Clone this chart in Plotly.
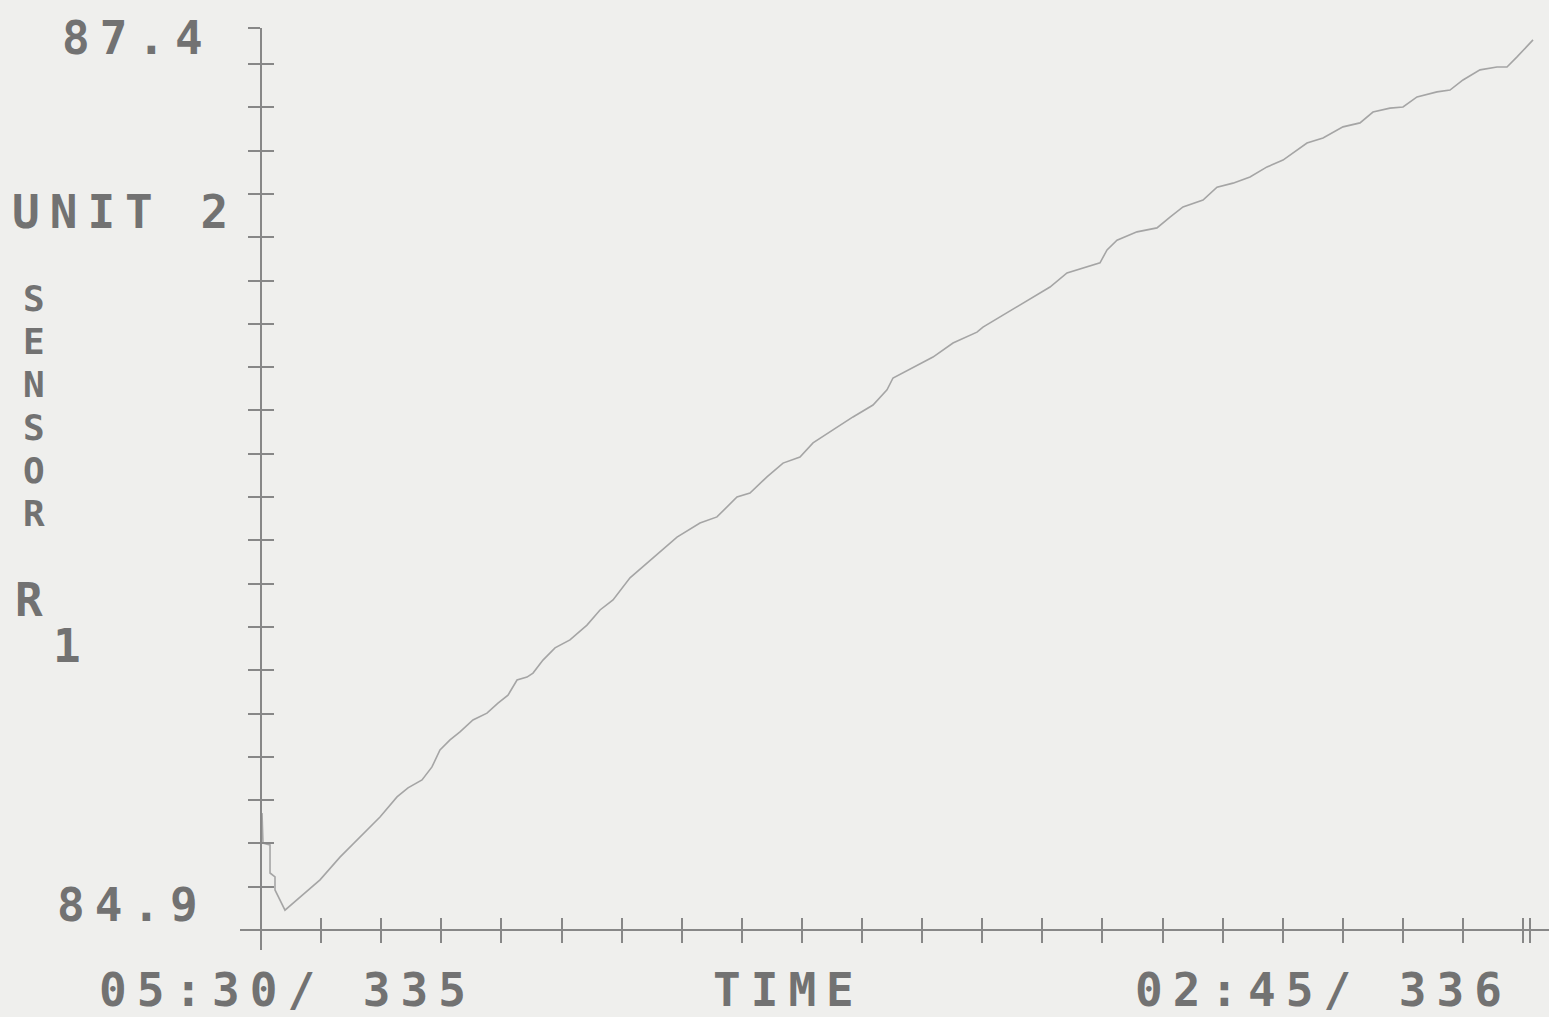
import plotly.graph_objects as go

# ---------------- data (hours after 05:30 day 335, sensor R1 reading) ----------------
time_h = [0.017, 0.033, 0.150, 0.150, 0.233, 0.233, 0.399, 0.649, 0.982, 1.314, 1.647,
          1.980, 2.263, 2.446, 2.679, 2.845, 2.978, 3.145, 3.311, 3.527, 3.760, 3.943,
          4.110, 4.260, 4.426, 4.526, 4.692, 4.892, 5.141, 5.424, 5.641, 5.857, 6.140,
          6.522, 6.922, 7.304, 7.587, 7.920, 8.136, 8.419, 8.686, 8.968, 9.185, 9.517,
          9.850, 10.183, 10.416, 10.516, 10.849, 11.181, 11.514, 11.913, 12.013, 12.579,
          13.128, 13.411, 13.744, 13.960, 14.077, 14.243, 14.576, 14.908, 15.125, 15.341,
          15.674, 15.907, 16.173, 16.456, 16.739, 17.005, 17.404, 17.671, 18.003, 18.286,
          18.502, 18.785, 19.002, 19.235, 19.567, 19.784, 20.000, 20.283, 20.566, 20.732,
          20.899, 21.165]
sensor_r1 = [85.224, 85.141, 85.136, 85.058, 85.047, 85.011, 84.955, 84.991, 85.039, 85.102,
             85.158, 85.213, 85.269, 85.294, 85.316, 85.352, 85.399, 85.427, 85.449, 85.482,
             85.501, 85.529, 85.551, 85.593, 85.601, 85.612, 85.648, 85.682, 85.704, 85.745,
             85.787, 85.815, 85.876, 85.931, 85.989, 86.028, 86.045, 86.100, 86.111, 86.156,
             86.194, 86.211, 86.250, 86.286, 86.322, 86.355, 86.397, 86.430, 86.460, 86.488,
             86.527, 86.557, 86.571, 86.627, 86.682, 86.721, 86.738, 86.749, 86.785, 86.812,
             86.835, 86.846, 86.876, 86.904, 86.923, 86.959, 86.970, 86.987, 87.015, 87.034,
             87.081, 87.095, 87.126, 87.137, 87.167, 87.178, 87.181, 87.209, 87.223, 87.228,
             87.256, 87.284, 87.292, 87.292, 87.320, 87.367]

y_min, y_max = 84.9, 87.4
y_min_label = "84.9"
y_max_label = "87.4"
unit_label = "UNIT 2"
sensor_label = "SENSOR"
sensor_name = "R"
sensor_sub = "1"
x_start_label = "05:30/ 335"
x_end_label = "02:45/ 336"
x_title = "TIME"
x_end_h = 21.12
y_tick_step = 0.12

# ---------------- style ----------------
W, H = 1549, 1017
BG = "#efefed"
TXT = "#727272"
AX = "#878787"
LINE = "#a5a5a5"
FONT = "DejaVu Sans Mono"

plot_l, plot_r, plot_t, plot_b = 240, 1549, 28, 950   # plot area in px
axis_x_px, axis_y_px = 261, 930                       # where axes cross
px_per_h = 60.1
px_per_unit = (axis_y_px - plot_t) / (y_max - y_min)

x_range = [-(axis_x_px - plot_l) / px_per_h, (plot_r - axis_x_px) / px_per_h]
y_range = [y_min - (plot_b - axis_y_px) / px_per_unit, y_max]
pw, ph = plot_r - plot_l, plot_b - plot_t
y_axis_pos = (axis_x_px - plot_l) / pw
x_axis_pos = (plot_b - axis_y_px) / ph

x_ticks = list(range(0, 22)) + [x_end_h]
y_ticks = [round(y_min + y_tick_step * k, 3) for k in range(1, 21)] + [y_max]


def px_x(px):
    return (px - plot_l) / pw


def px_y(py):
    return (plot_b - py) / ph


fig = go.Figure()
fig.add_trace(go.Scatter(x=time_h, y=sensor_r1, mode="lines",
                         line=dict(color=LINE, width=1.6), hoverinfo="skip"))
fig.add_trace(go.Scatter(x=[None], y=[None], xaxis="x2", yaxis="y2",
                         mode="lines", hoverinfo="skip"))

common = dict(showgrid=False, zeroline=False, showticklabels=False,
              ticklen=12, tickwidth=2, tickcolor=AX, fixedrange=True)

fig.update_layout(
    width=W, height=H,
    margin=dict(l=plot_l, r=W - plot_r, t=plot_t, b=H - plot_b),
    paper_bgcolor=BG, plot_bgcolor=BG, showlegend=False,
    xaxis=dict(range=x_range, tickvals=x_ticks, ticks="outside", showline=True,
               linecolor=AX, linewidth=2, anchor="free", position=x_axis_pos, **common),
    xaxis2=dict(range=x_range, tickvals=x_ticks, ticks="inside", showline=False,
                overlaying="x", anchor="free", position=x_axis_pos, **common),
    yaxis=dict(range=y_range, tickvals=y_ticks, ticks="outside", showline=True,
               linecolor=AX, linewidth=2, anchor="free", position=y_axis_pos, **common),
    yaxis2=dict(range=y_range, tickvals=y_ticks, ticks="inside", showline=False,
                overlaying="y", anchor="free", position=y_axis_pos, side="left", **common),
)


def spaced(t, sp=10):
    return f'<span style="letter-spacing:{sp}px">{t}</span>'


def label(text, px, py, xanchor="center", size=46):
    fig.add_annotation(text=spaced(text), x=px_x(px), y=px_y(py), xref="paper", yref="paper",
                       xanchor=xanchor, yanchor="middle", showarrow=False,
                       font=dict(family=FONT, size=size, color=TXT, weight="bold"))


label(y_max_label, 215, 38, "right")
label(y_min_label, 210, 905, "right")
label(unit_label, 10, 212, "left")

# vertical word: one text, line pitch ~43 px
stacked = "<br>".join(f'<span style="font-size:36px">{ch}</span>' for ch in sensor_label)
fig.add_annotation(text=stacked, x=px_x(34), y=px_y(406), xref="paper", yref="paper",
                   xanchor="center", yanchor="middle", showarrow=False,
                   font=dict(family=FONT, size=33, color=TXT, weight="bold"))

label(sensor_name, 34, 600)
label(sensor_sub, 72, 646)
label(x_start_label, 287, 990)
label(x_title, 788, 990)
label(x_end_label, 1323, 990)

fig.write_html("out.html")
